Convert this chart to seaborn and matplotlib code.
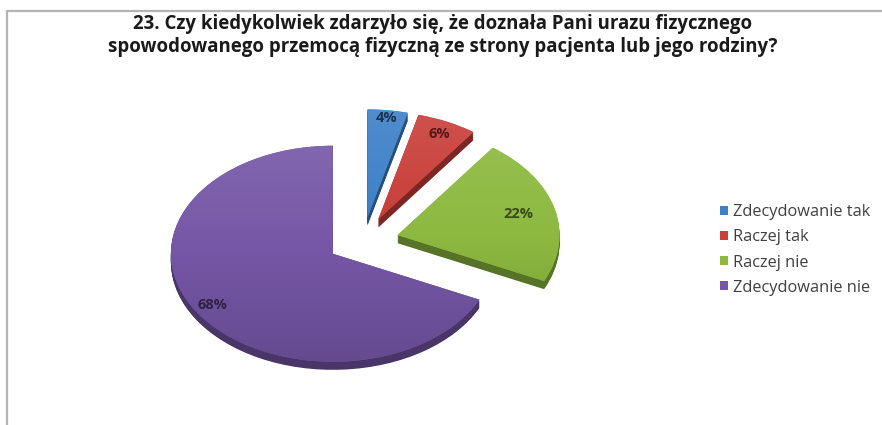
import numpy as np
import matplotlib
matplotlib.use("Agg")
import matplotlib.pyplot as plt
import seaborn as sns
from matplotlib.lines import Line2D
from matplotlib.colors import LinearSegmentedColormap

title = ("23. Czy kiedykolwiek zdarzyło się, że doznała Pani urazu fizycznego\n"
         "spowodowanego przemocą fizyczną ze strony pacjenta lub jego rodziny?")
categories = ["Zdecydowanie tak", "Raczej tak", "Raczej nie", "Zdecydowanie nie"]
shares = [4, 6, 22, 68]
colors = ["#3E80C8", "#C93F3A", "#8DB940", "#7556A6"]

sns.set_theme(style="white")
plt.rcParams["font.family"] = ["Open Sans", "DejaVu Sans"]

W, H = 882, 425
fig = plt.figure(figsize=(W / 100, H / 100), dpi=100)
fig.patch.set_facecolor("white")

# pie centre and radii in pixels (tilted, so vertical radius is shorter)
cx, cy, rx, ry = 363, 241, 162, 108
lim = 1.6
ax = fig.add_axes([(cx - rx * lim) / W, (H - cy - ry * lim) / H,
                   2 * rx * lim / W, 2 * ry * lim / H])

explode = [0.22] * len(shares)
palette = sns.color_palette(colors)
side = [tuple(c * 0.62 for c in col) for col in palette]


def shade(col, f):
    if f >= 0:
        return tuple(c + (1 - c) * f for c in col)
    return tuple(c * (1 + f) for c in col)


# darker stacked copies give the slices some thickness
depth = 0.075
for k in np.linspace(depth, 0.01, 10):
    ax.pie(shares, colors=side, explode=explode, startangle=90,
           counterclock=False, center=(0, -k), wedgeprops=dict(linewidth=0))
wedges, _ = ax.pie(shares, colors=palette, explode=explode, startangle=90,
                   counterclock=False, wedgeprops=dict(linewidth=0))

ax.set_aspect("auto")
ax.axis("off")

# soft top-to-bottom lighting on each slice face
grad = np.linspace(0, 1, 256).reshape(-1, 1)
for w, col in zip(wedges, palette):
    cmap = LinearSegmentedColormap.from_list(
        "light", [shade(col, -0.14), col, shade(col, 0.10)])
    x0, y0 = w.center
    im = ax.imshow(grad, cmap=cmap, origin="lower", aspect="auto",
                   extent=(x0 - 1.05, x0 + 1.05, y0 - 1.05, y0 + 1.05),
                   zorder=w.get_zorder() + 0.1)
    im.set_clip_path(w)
ax.set_xlim(-lim, lim)
ax.set_ylim(-lim, lim)

label_radius = [0.93, 0.88, 0.77, 0.88]
for w, v, r, col in zip(wedges, shares, label_radius, palette):
    mid = np.deg2rad((w.theta1 + w.theta2) / 2)
    x0, y0 = w.center
    ax.text(x0 + r * np.cos(mid), y0 + r * np.sin(mid), f"{v}%",
            ha="center", va="center", fontsize=10.5, fontweight="bold",
            color=shade(col, -0.6), zorder=5)

fig.text(443 / W, 1 - 35.5 / H, title, ha="center", va="center",
         fontsize=13.4, fontweight="bold", color="#1a1a1a", linespacing=1.25)

fig.legend(wedges, categories, loc="center left",
           bbox_to_anchor=(705 / W, 1 - 250 / H), frameon=False,
           fontsize=11.8, handlelength=0.5, handleheight=0.5,
           handletextpad=0.3, labelspacing=0.55, labelcolor="#404040")

# outer frame lines along the top and left
fig.add_artist(Line2D([6 / W, 1], [1 - 10.5 / H, 1 - 10.5 / H],
                      transform=fig.transFigure, color="#b4b4b4", lw=1.6,
                      solid_capstyle="butt"))
fig.add_artist(Line2D([6.5 / W, 6.5 / W], [0, 1 - 10.5 / H],
                      transform=fig.transFigure, color="#b4b4b4", lw=1.6,
                      solid_capstyle="butt"))

fig.savefig("out.png", dpi=100, facecolor="white")
